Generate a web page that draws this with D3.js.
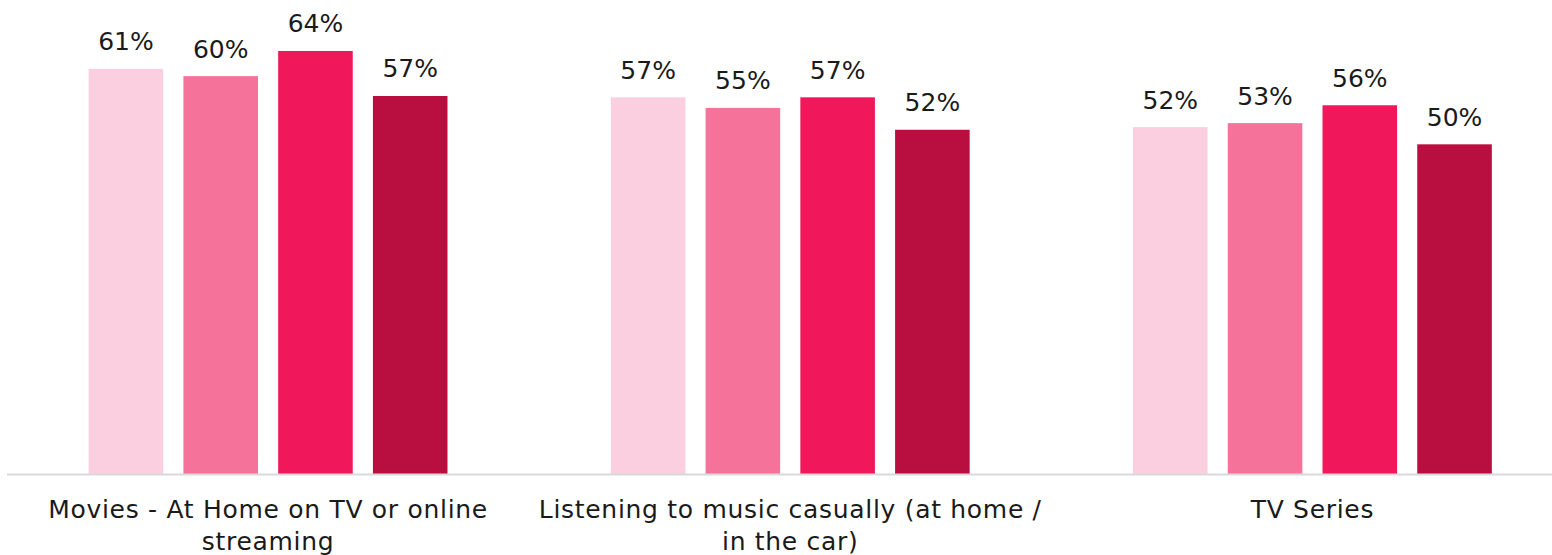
<!DOCTYPE html>
<html>
<head>
<meta charset="utf-8">
<script src="https://cdn.jsdelivr.net/npm/d3@7"></script>
<style>
  body { margin: 0; background: #fff; }
  text { font-family: "DejaVu Sans", sans-serif; fill: #1a1a1a; }
</style>
</head>
<body>
<div id="chart"></div>
<script>
// chart data
var categories = ["Movies - At Home on TV or online streaming",
                  "Listening to music casually (at home / in the car)",
                  "TV Series"];
var seriesNames = ["S1", "S2", "S3", "S4"];
var s1 = [61.2, 56.9, 52.4];
var s2 = [60.1, 55.3, 53.0];
var s3 = [63.9, 56.9, 55.7];
var s4 = [57.1, 52.0, 49.8];
var labels1 = ["61%", "57%", "52%"];
var labels2 = ["60%", "55%", "53%"];
var labels3 = ["64%", "57%", "56%"];
var labels4 = ["57%", "52%", "50%"];
var colors = ["#FBCFDF", "#F5739B", "#F0185A", "#B80E40"];

var svgWidth = 1552;
var svgHeight = 555;
var baseY = 474;

var series = [s1, s2, s3, s4];
var seriesLabels = [labels1, labels2, labels3, labels4];

var rows = [];
categories.forEach(function(c, i) {
  series.forEach(function(s, j) {
    rows.push({cat: c, key: seriesNames[j], value: s[i], label: seriesLabels[j][i], color: colors[j]});
  });
});

var svg = d3.select("#chart").append("svg")
  .attr("width", svgWidth)
  .attr("height", svgHeight);

// scales
var x0 = d3.scaleBand()
  .domain(categories)
  .range([7, 1573.5]);

var x1 = d3.scaleBand()
  .domain(seriesNames)
  .range([0, x0.bandwidth()])
  .paddingInner(0.213)
  .paddingOuter(0.862);

var y = d3.scaleLinear()
  .domain([0, 70])
  .range([baseY, baseY - 70 * 6.62]);

// bars
svg.append("g").selectAll("rect")
  .data(rows)
  .enter()
  .append("rect")
  .attr("x", d => x0(d.cat) + x1(d.key))
  .attr("y", d => y(d.value))
  .attr("width", x1.bandwidth())
  .attr("height", d => y(0) - y(d.value))
  .style("fill", d => d.color);

// value labels
svg.append("g").selectAll("text")
  .data(rows)
  .enter()
  .append("text")
  .attr("x", d => x0(d.cat) + x1(d.key) + x1.bandwidth() / 2)
  .attr("y", d => y(d.value) - 18.5)
  .attr("text-anchor", "middle")
  .style("font-size", "25px")
  .text(d => d.label);

// baseline
svg.append("line")
  .attr("x1", 7)
  .attr("x2", svgWidth)
  .attr("y1", baseY + 0.5)
  .attr("y2", baseY + 0.5)
  .style("stroke", "#d9d9d9")
  .style("stroke-width", 2);

// category labels, wrapped
var catText = svg.append("g").selectAll("text")
  .data(categories)
  .enter()
  .append("text")
  .attr("x", d => x0(d) + x0.bandwidth() / 2)
  .attr("y", 518)
  .attr("text-anchor", "middle")
  .style("font-size", "25px")
  .style("letter-spacing", "0.7px")
  .text(d => d);

catText.each(function(d) {
  var t = d3.select(this);
  var words = d.split(" ");
  var maxW = 510;
  var line = [];
  t.text(null);
  var tspan = t.append("tspan").attr("x", t.attr("x")).attr("dy", 0);
  words.forEach(function(w) {
    line.push(w);
    tspan.text(line.join(" "));
    if (tspan.node().getComputedTextLength() > maxW && line.length > 1) {
      line.pop();
      tspan.text(line.join(" "));
      line = [w];
      tspan = t.append("tspan").attr("x", t.attr("x")).attr("dy", 32).text(w);
    }
  });
});
</script>
</body>
</html>
